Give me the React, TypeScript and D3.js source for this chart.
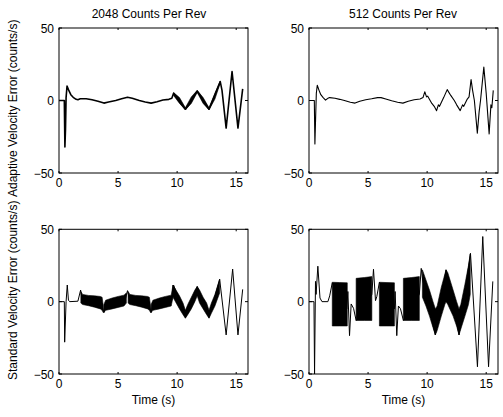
import React from 'react';
import * as d3 from 'd3';

const W = 503;
const H = 417;

const xTicks = [0, 5, 10, 15];
const yTicks = [-50, 0, 50];
const titles = ['2048 Counts Per Rev', '512 Counts Per Rev'];
const yLabels = ['Adaptive Velocity Error (counts/s)', 'Standard Velocity Error (counts/s)'];
const xLabel = 'Time (s)';

type Pt = [number, number];
type Band = [number, number, number][];

// velocity error traces, [time s, error counts/s]
const adaptive2048: Pt[] = [
  [0, 0], [0.45, 0], [0.5, -32], [0.55, -20], [0.6, 2], [0.68, 10], [0.8, 7.5], [1.0, 4],
  [1.2, 2.2], [1.45, 0.8], [1.6, 0.5], [1.8, 1.2], [2.3, 1.2], [2.8, 0.5], [3.3, -0.5],
  [3.8, -1.8], [4.2, -1], [4.8, 0], [5.3, 1.2], [5.8, 2.2], [6.2, 1.5], [6.8, 0], [7.3, -1],
  [7.8, -1.8], [8.3, -0.8], [8.8, 0.3], [9.3, 0.8], [9.55, 1.5], [9.7, 5], [10.7, -6],
  [11.7, 6.5], [12.7, -6], [13.65, 13], [13.8, 7], [14.15, -19], [14.65, 20], [15.15, -19],
  [15.55, 8],
];

const adaptive512: Pt[] = [
  [0, 0], [0.45, 0], [0.5, -30], [0.55, -15], [0.62, 5], [0.7, 10.5], [0.85, 7], [1.0, 4],
  [1.2, 2], [1.4, 0.3], [1.6, 1.5], [1.75, 2], [2.2, 1.5], [2.6, 0.8], [3.0, 0], [3.5, -1.2],
  [3.9, -1.8], [4.3, -0.5], [4.8, 0.5], [5.3, 1.2], [5.8, 2], [6.1, 2], [6.5, 1], [7.0, -0.2],
  [7.5, -1.2], [7.95, -1.8], [8.4, -0.5], [8.9, 0.5], [9.4, 1], [9.65, 2], [9.8, 6],
  [9.95, 2.5], [10.05, 3], [10.4, -2], [10.6, -4], [10.8, -7], [10.95, -3], [11.05, -4],
  [11.4, 2], [11.7, 7.5], [12.0, 3.5], [12.3, 0], [12.5, -3], [12.8, -7], [13.0, -3],
  [13.1, -4], [13.4, 1], [13.55, 2.5], [13.72, 14.5], [13.85, 7], [14.0, 0], [14.25, -22.5],
  [14.4, -8], [14.52, 0], [14.8, 23], [15.0, 5], [15.25, -23], [15.4, -3], [15.48, -5],
  [15.6, 7],
];

const standard2048: Pt[] = [
  [0, 0], [0.45, 0], [0.48, -28], [0.6, 0], [0.7, 11.5], [0.8, 1], [0.9, 0], [1.6, 0.3],
  [1.83, 8], [1.95, 2], [3.6, -1], [3.8, -7.5], [3.95, -2], [5.6, 1], [5.8, 7.6], [5.95, 2],
  [7.6, -1], [7.8, -7.5], [7.95, -2], [9.55, 1], [9.7, 11.5], [10.7, -11], [11.7, 10.5],
  [12.7, -11], [13.6, 15.5], [14.15, -23], [14.7, 22.5], [15.15, -23], [15.55, 8.5],
];

const standard512: Pt[] = [
  [0, 0], [0.42, 0], [0.47, -50], [0.55, 14], [0.6, 5], [0.75, 24.5], [0.93, 2.5], [1.1, 0],
  [1.6, 0], [1.75, 4], [1.97, 13], [3.2, -5], [3.29, 7], [3.43, -23.5], [3.57, -1.6],
  [3.77, -4.6], [3.99, -13], [5.32, 5], [5.46, 22.4], [5.63, 0.7], [5.74, 3.5], [5.96, 13.4],
  [7.23, -5], [7.29, 7], [7.43, -23.5], [7.57, -3], [7.74, -4.8], [7.99, -13], [9.34, 5],
  [9.5, 23], [9.62, 15], [10.69, -23], [11.6, 22], [12.7, -23], [13.67, 33.4], [14.26, -45],
  [14.71, 45], [15.2, -45], [15.56, 14],
];

// dense oscillation envelopes, [time s, low, high]
const adaptive2048Bands: Band[] = [
  [[9.7, 3.5, 5.5], [10.2, -2, 2], [10.7, -6.5, -5], [11.2, -2, 2.5], [11.7, 5.5, 7],
   [12.2, -2, 2], [12.7, -6.5, -5], [13.2, 1, 5], [13.65, 12, 13.5]],
];

const adaptive512Bands: Band[] = [];

const standard2048Bands: Band[] = [
  [[1.85, -1, 7], [2.0, -2, 5], [2.5, -2.8, 4.3], [3.0, -3.8, 4], [3.5, -5, 3.6], [3.65, -6, 3], [3.75, -7.5, -3]],
  [[3.8, -7.5, -2], [3.95, -6, 1], [4.5, -5, 2.5], [5.0, -4, 3.6], [5.5, -3, 4.5], [5.7, -1, 6]],
  [[5.85, -1, 7], [6.0, -2, 5], [6.5, -2.8, 4.3], [7.0, -3.8, 4], [7.5, -5, 3.6], [7.65, -6, 3], [7.75, -7.5, -3]],
  [[7.8, -7.5, -2], [7.95, -6, 1], [8.5, -5, 2.5], [9.0, -4, 3.6], [9.5, -3, 4.5], [9.65, 3, 11.5]],
  [[9.65, 3, 11.5], [10.2, -5, 4], [10.5, -9, -1], [10.7, -11.5, -6], [10.9, -9, -2],
   [11.2, -5, 3], [11.5, 0, 8], [11.7, 4, 10.5], [11.9, -1, 8], [12.2, -5, 3], [12.5, -9, -1],
   [12.7, -11.5, -6], [12.9, -8, -1], [13.2, -3, 5], [13.6, 6, 15.5]],
];

const standard512Bands: Band[] = [
  [[1.97, -16.8, 13.4], [2.6, -16.8, 13.2], [3.24, -16.8, 13]],
  [[3.99, -13, 16.1], [4.7, -13, 16.7], [5.32, -13, 17.3]],
  [[5.96, -16.8, 13.4], [6.6, -16.8, 13.2], [7.23, -16.8, 13]],
  [[7.99, -13, 16.1], [8.7, -13, 16.7], [9.34, -13, 17.3]],
  [[9.6, 3, 22], [9.9, -3, 15], [10.2, -10, 8], [10.5, -18, 0], [10.7, -23, -5],
   [10.85, -20, -3], [11.2, -10, 10], [11.5, -2, 19], [11.6, 0, 22], [11.75, -2, 20],
   [12.2, -10, 8], [12.5, -17, 0], [12.7, -23, -5], [12.85, -19, -2], [13.2, -10, 12],
   [13.5, -2, 25], [13.65, 5, 33]],
];

const FONT = '"Liberation Sans", Arial, Helvetica, sans-serif';

function fmt(v: number) {
  return v < 0 ? '\u2212' + Math.abs(v) : String(v);
}

function Panel({ id, left, right, top, bottom, data, bands, strokeWidth, title, titleX, showX }: any) {
  const x = d3.scaleLinear().domain([0, 16]).range([left, right]);
  const y = d3.scaleLinear().domain([-50, 50]).range([bottom, top]);
  const line = d3.line<Pt>().x(d => x(d[0])).y(d => y(d[1]));
  const area = d3.area<[number, number, number]>()
    .x(d => x(d[0])).y0(d => y(d[1])).y1(d => y(d[2]));
  return (
    <g>
      <defs>
        <clipPath id={id}>
          <rect x={left} y={top} width={right - left} height={bottom - top} />
        </clipPath>
      </defs>
      <g clipPath={`url(#${id})`}>
        {bands.map((b: Band, i: number) => (
          <path key={i} d={area(b) || ''} fill="#000" stroke="#000" strokeWidth={0.6} />
        ))}
        <path d={line(data) || ''} fill="none" stroke="#000" strokeWidth={strokeWidth} strokeLinejoin="round" />
      </g>
      <rect x={left} y={top} width={right - left} height={bottom - top} fill="none" stroke="#000" strokeWidth={1} />
      {xTicks.map(t => (
        <g key={'x' + t}>
          <line x1={x(t)} x2={x(t)} y1={bottom} y2={bottom - 2} stroke="#000" />
          <line x1={x(t)} x2={x(t)} y1={top} y2={top + 2} stroke="#000" />
          <text x={x(t)} y={bottom + 14} textAnchor="middle" fontSize={12} fontFamily={FONT}>{t}</text>
        </g>
      ))}
      {yTicks.map(t => (
        <g key={'y' + t}>
          <line x1={left} x2={left + 3} y1={y(t)} y2={y(t)} stroke="#000" />
          <line x1={right} x2={right - 3} y1={y(t)} y2={y(t)} stroke="#000" />
          <text x={left - 5} y={y(t) + 4.5} textAnchor="end" fontSize={12} fontFamily={FONT}>{fmt(t)}</text>
        </g>
      ))}
      {title && (
        <text x={titleX} y={18} textAnchor="middle" fontSize={12} fontFamily={FONT}>{title}</text>
      )}
      {showX && (
        <text x={(left + right) / 2} y={bottom + 30} textAnchor="middle" fontSize={12} fontFamily={FONT}>{xLabel}</text>
      )}
    </g>
  );
}

export default function App() {
  const cols = [[59, 248], [309, 498]];
  const rows = [[28, 173], [229.3, 374]];
  return (
    <svg width={W} height={H} style={{ position: 'absolute', left: 0, top: 0, background: '#fff' }}>
      <rect width={W} height={H} fill="#fff" />
      <Panel id="c1" left={cols[0][0]} right={cols[0][1]} top={rows[0][0]} bottom={rows[0][1]}
        data={adaptive2048} bands={adaptive2048Bands} strokeWidth={1.6} title={titles[0]} titleX={149} />
      <Panel id="c2" left={cols[1][0]} right={cols[1][1]} top={rows[0][0]} bottom={rows[0][1]}
        data={adaptive512} bands={adaptive512Bands} strokeWidth={1.1} title={titles[1]} titleX={403} />
      <Panel id="c3" left={cols[0][0]} right={cols[0][1]} top={rows[1][0]} bottom={rows[1][1]}
        data={standard2048} bands={standard2048Bands} strokeWidth={1} showX />
      <Panel id="c4" left={cols[1][0]} right={cols[1][1]} top={rows[1][0]} bottom={rows[1][1]}
        data={standard512} bands={standard512Bands} strokeWidth={1} showX />
      <text transform="translate(17,197) rotate(-90)" fontSize={12} fontFamily={FONT}>{yLabels[0]}</text>
      <text transform="translate(17,380) rotate(-90)" fontSize={12} fontFamily={FONT}>{yLabels[1]}</text>
    </svg>
  );
}
